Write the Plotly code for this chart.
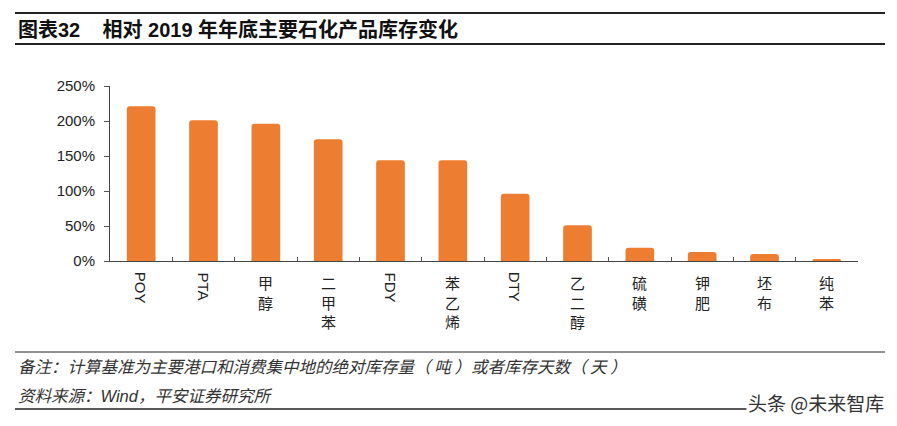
import plotly.graph_objects as go

categories = ["POY", "PTA", "甲醇", "二甲苯", "FDY", "苯乙烯", "DTY", "乙二醇", "硫磺", "钾肥", "坯布", "纯苯"]
values = [2.21, 2.01, 1.96, 1.74, 1.44, 1.44, 0.96, 0.51, 0.19, 0.13, 0.10, 0.03]
y_ticks = [0, 0.5, 1.0, 1.5, 2.0, 2.5]

title_text = "图表32    相对 2019 年年底主要石化产品库存变化"
note_text = "备注：计算基准为主要港口和消费集中地的绝对库存量（ 吨 ）或者库存天数（ 天 ）"
source_text = "资料来源：Wind，平安证券研究所"
watermark = "头条 @未来智库"

W, H = 897, 426
L, R, T, B = 110, 39, 86, 165
PW, PH = W - L - R, H - T - B

def px(x):
    return (x - L) / PW

def py(y):
    return 1 - (y - T) / PH

FONT = "Liberation Sans, Arial, Noto Sans CJK SC, sans-serif"
CJK = "Noto Sans CJK SC, Liberation Sans, sans-serif"

fig = go.Figure(go.Bar(
    x=categories, y=values, marker=dict(color="#ED7D31", line=dict(width=0), cornerradius=3),
    width=0.46, hoverinfo="skip",
))

ann = []
for c in categories:
    if c.isascii():
        ann.append(dict(x=c, xref="x", y=py(270), yref="paper", text=c, textangle=90,
                        showarrow=False, yanchor="top", xanchor="center",
                        font=dict(family=FONT, size=15, color="#222")))
    else:
        ann.append(dict(x=c, xref="x", y=py(270), yref="paper", text="<br>".join(list(c)),
                        showarrow=False, yanchor="top", xanchor="center",
                        font=dict(family=CJK, size=15, color="#222")))

ann.append(dict(x=px(16), y=py(29), xref="paper", yref="paper", text="<b>" + title_text + "</b>",
                showarrow=False, xanchor="left", yanchor="middle",
                font=dict(family=FONT, size=20, color="#111")))
ann.append(dict(x=px(16), y=py(366), xref="paper", yref="paper", text="<i>" + note_text + "</i>",
                showarrow=False, xanchor="left", yanchor="middle",
                font=dict(family=CJK, size=16.5, color="#333")))
ann.append(dict(x=px(16), y=py(396), xref="paper", yref="paper", text="<i>" + source_text + "</i>",
                showarrow=False, xanchor="left", yanchor="middle",
                font=dict(family=FONT, size=16.5, color="#333")))
ann.append(dict(x=px(886), y=py(402), xref="paper", yref="paper", text=watermark,
                showarrow=False, xanchor="right", yanchor="middle", bgcolor="white",
                font=dict(family=CJK, size=19, color="#333")))

def hline(y, x0=15, x1=885, w=1.5):
    return dict(type="line", xref="paper", yref="paper", x0=px(x0), x1=px(x1), y0=py(y), y1=py(y),
                line=dict(color="#222", width=w))

shapes = [hline(13, w=2), hline(44, w=2), hline(352, w=1), hline(409, w=1.5)]

fig.update_layout(
    width=W, height=H, margin=dict(l=L, r=R, t=T, b=B),
    paper_bgcolor="white", plot_bgcolor="white",
    showlegend=False, annotations=ann, shapes=shapes,
    xaxis=dict(type="category", showticklabels=False, tickson="boundaries", ticks="inside",
               ticklen=4, tickcolor="#555", showline=True, linecolor="#444", linewidth=1,
               showgrid=False, zeroline=False),
    yaxis=dict(range=[0, 2.5], tickvals=y_ticks, tickformat=".0%", ticks="outside", ticklen=5,
               ticklabelstandoff=6,
               tickcolor="#555", showline=True, linecolor="#444", linewidth=1, showgrid=False,
               zeroline=False, tickfont=dict(family=FONT, size=15, color="#222")),
    bargap=0.5,
)

fig.write_html("out.html", config={"displayModeBar": False},
               post_script="document.body.style.margin='0';document.body.style.overflow='hidden';")
